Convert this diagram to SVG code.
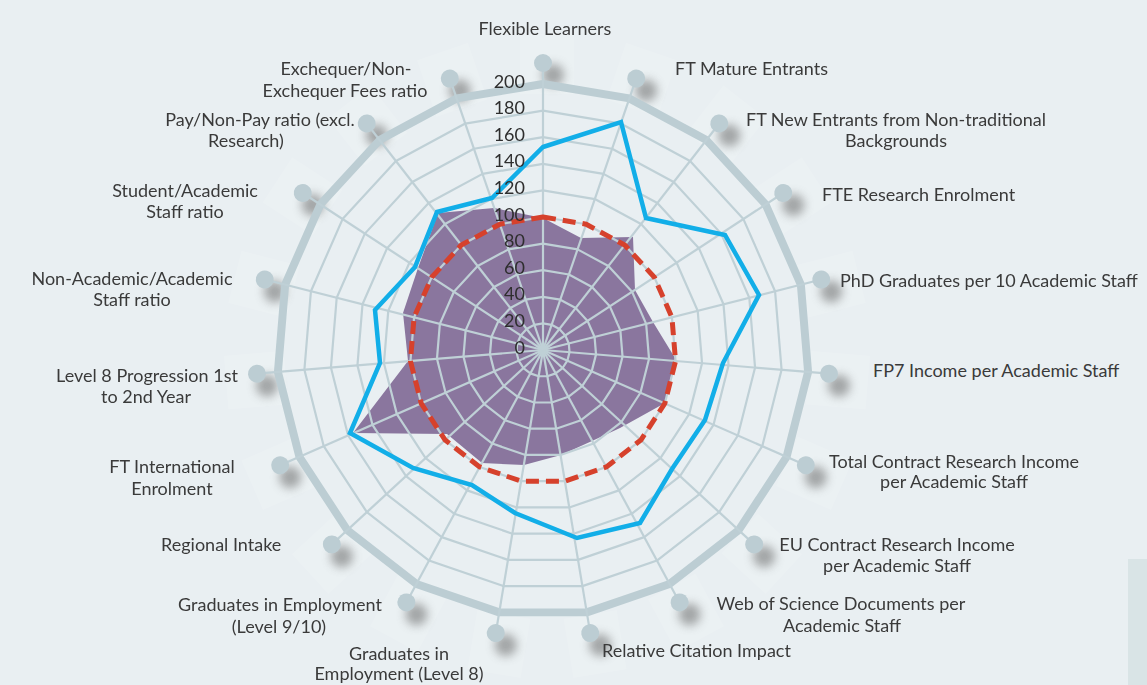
<svg xmlns="http://www.w3.org/2000/svg" xmlns:xlink="http://www.w3.org/1999/xlink" width="1147" height="685" viewBox="0 0 1147 685">
<defs>
<style>
.lbl{font-family:Lato,"Open Sans","Liberation Sans",sans-serif;font-weight:400;font-size:18px;fill:#3a3a3a;}
.mid{text-anchor:middle}
.num{font-family:Lato,"Open Sans","Liberation Sans",sans-serif;font-weight:400;font-size:18px;fill:#2e2e2e;text-anchor:end}
.ring{fill:none;stroke:#bfd0d6;stroke-linejoin:round}
.spoke{stroke:#bfd0d6;stroke-width:2.2}
.knob{fill:#bccdd3}
.shadow{fill:#5a5a5a;opacity:.5;filter:url(#blur)}
.tile{fill:#ffffff;opacity:.13}
</style>
<filter id="blur" x="-1" y="-1" width="3" height="3"><feGaussianBlur stdDeviation="5"/></filter>
<polygon id="web" points="0,-100 32.47,-94.58 61.42,-78.91 83.72,-54.69 96.94,-24.55 99.66,8.26 91.58,40.17 73.57,67.73 47.59,87.95 16.46,98.64 -16.46,98.64 -47.59,87.95 -73.57,67.73 -91.58,40.17 -99.66,8.26 -96.94,-24.55 -83.72,-54.69 -61.42,-78.91 -32.47,-94.58"/>
</defs>
<rect width="1147" height="685" fill="#e9eff2"/>
<rect x="1128" y="559" width="19" height="126" fill="#d9e4e6"/>

<g id="tiles" class="tile">
<g transform="translate(547,356) rotate(0)"><rect x="-27" y="-322" width="54" height="60"/></g>
<g transform="translate(547,356) rotate(18.947)"><rect x="-27" y="-322" width="54" height="60"/></g>
<g transform="translate(547,356) rotate(37.895)"><rect x="-27" y="-322" width="54" height="60"/></g>
<g transform="translate(547,356) rotate(56.842)"><rect x="-27" y="-322" width="54" height="60"/></g>
<g transform="translate(547,356) rotate(75.789)"><rect x="-27" y="-322" width="54" height="60"/></g>
<g transform="translate(547,356) rotate(94.737)"><rect x="-27" y="-322" width="54" height="60"/></g>
<g transform="translate(547,356) rotate(113.684)"><rect x="-27" y="-322" width="54" height="60"/></g>
<g transform="translate(547,356) rotate(132.632)"><rect x="-27" y="-322" width="54" height="60"/></g>
<g transform="translate(547,356) rotate(151.579)"><rect x="-27" y="-322" width="54" height="60"/></g>
<g transform="translate(547,356) rotate(170.526)"><rect x="-27" y="-322" width="54" height="60"/></g>
<g transform="translate(547,356) rotate(189.474)"><rect x="-27" y="-322" width="54" height="60"/></g>
<g transform="translate(547,356) rotate(208.421)"><rect x="-27" y="-322" width="54" height="60"/></g>
<g transform="translate(547,356) rotate(227.368)"><rect x="-27" y="-322" width="54" height="60"/></g>
<g transform="translate(547,356) rotate(246.316)"><rect x="-27" y="-322" width="54" height="60"/></g>
<g transform="translate(547,356) rotate(265.263)"><rect x="-27" y="-322" width="54" height="60"/></g>
<g transform="translate(547,356) rotate(284.211)"><rect x="-27" y="-322" width="54" height="60"/></g>
<g transform="translate(547,356) rotate(303.158)"><rect x="-27" y="-322" width="54" height="60"/></g>
<g transform="translate(547,356) rotate(322.105)"><rect x="-27" y="-322" width="54" height="60"/></g>
<g transform="translate(547,356) rotate(341.053)"><rect x="-27" y="-322" width="54" height="60"/></g>
</g>

<g id="shadows" class="shadow">
<g transform="translate(553,362) rotate(0)"><circle cy="-287" r="11"/></g>
<g transform="translate(553,362) rotate(18.947)"><circle cy="-287" r="11"/></g>
<g transform="translate(553,362) rotate(37.895)"><circle cy="-287" r="11"/></g>
<g transform="translate(553,362) rotate(56.842)"><circle cy="-287" r="11"/></g>
<g transform="translate(553,362) rotate(75.789)"><circle cy="-287" r="11"/></g>
<g transform="translate(553,362) rotate(94.737)"><circle cy="-287" r="11"/></g>
<g transform="translate(553,362) rotate(113.684)"><circle cy="-287" r="11"/></g>
<g transform="translate(553,362) rotate(132.632)"><circle cy="-287" r="11"/></g>
<g transform="translate(553,362) rotate(151.579)"><circle cy="-287" r="11"/></g>
<g transform="translate(553,362) rotate(170.526)"><circle cy="-287" r="11"/></g>
<g transform="translate(553,362) rotate(189.474)"><circle cy="-287" r="11"/></g>
<g transform="translate(553,362) rotate(208.421)"><circle cy="-287" r="11"/></g>
<g transform="translate(553,362) rotate(227.368)"><circle cy="-287" r="11"/></g>
<g transform="translate(553,362) rotate(246.316)"><circle cy="-287" r="11"/></g>
<g transform="translate(553,362) rotate(265.263)"><circle cy="-287" r="11"/></g>
<g transform="translate(553,362) rotate(284.211)"><circle cy="-287" r="11"/></g>
<g transform="translate(553,362) rotate(303.158)"><circle cy="-287" r="11"/></g>
<g transform="translate(553,362) rotate(322.105)"><circle cy="-287" r="11"/></g>
<g transform="translate(553,362) rotate(341.053)"><circle cy="-287" r="11"/></g>
</g>

<g id="area">
<polygon fill="#8a769e" points="543,218 581,238 633,237 635,290 653,322 675,358 665,403 620,428 592,441 561,455 524,465 482,463 447,434 353,433 408,361 403,313 418,268 438,213 494,208"/>
</g>

<g id="grid">
<use xlink:href="#web" href="#web" class="ring" transform="translate(543,350) scale(0.266)" style="stroke-width:8.27"/>
<use xlink:href="#web" href="#web" class="ring" transform="translate(543,350) scale(0.532)" style="stroke-width:4.14"/>
<use xlink:href="#web" href="#web" class="ring" transform="translate(543,350) scale(0.798)" style="stroke-width:2.76"/>
<use xlink:href="#web" href="#web" class="ring" transform="translate(543,350) scale(1.064)" style="stroke-width:2.07"/>
<use xlink:href="#web" href="#web" class="ring" transform="translate(543,350) scale(1.33)" style="stroke-width:1.65"/>
<use xlink:href="#web" href="#web" class="ring" transform="translate(543,350) scale(1.596)" style="stroke-width:1.38"/>
<use xlink:href="#web" href="#web" class="ring" transform="translate(543,350) scale(1.862)" style="stroke-width:1.18"/>
<use xlink:href="#web" href="#web" class="ring" transform="translate(543,350) scale(2.128)" style="stroke-width:1.03"/>
<use xlink:href="#web" href="#web" class="ring" transform="translate(543,350) scale(2.394)" style="stroke-width:0.92"/>
<use xlink:href="#web" href="#web" class="ring" transform="translate(543,350) scale(2.66)" style="stroke-width:3.0;stroke:#bccdd3"/>
</g>

<g id="axis-flexible-learners"><g transform="translate(543,350) rotate(0)"><line class="spoke" y2="-287"/><circle class="knob" cy="-287" r="9"/></g><text class="lbl mid" x="545" y="35">Flexible Learners</text></g>
<g id="axis-ft-mature-entrants"><g transform="translate(543,350) rotate(18.947)"><line class="spoke" y2="-287"/><circle class="knob" cy="-287" r="9"/></g><text class="lbl" x="675" y="75">FT Mature Entrants</text></g>
<g id="axis-ft-new-entrants"><g transform="translate(543,350) rotate(37.895)"><line class="spoke" y2="-287"/><circle class="knob" cy="-287" r="9"/></g><text class="lbl mid" x="896" y="126">FT New Entrants from Non-traditional</text><text class="lbl mid" x="896" y="147">Backgrounds</text></g>
<g id="axis-fte-research-enrolment"><g transform="translate(543,350) rotate(56.842)"><line class="spoke" y2="-287"/><circle class="knob" cy="-287" r="9"/></g><text class="lbl" x="822" y="201">FTE Research Enrolment</text></g>
<g id="axis-phd-graduates"><g transform="translate(543,350) rotate(75.789)"><line class="spoke" y2="-287"/><circle class="knob" cy="-287" r="9"/></g><text class="lbl" x="840" y="287">PhD Graduates per 10 Academic Staff</text></g>
<g id="axis-fp7-income"><g transform="translate(543,350) rotate(94.737)"><line class="spoke" y2="-287"/><circle class="knob" cy="-287" r="9"/></g><text class="lbl" x="873" y="377">FP7 Income per Academic Staff</text></g>
<g id="axis-total-contract-research"><g transform="translate(543,350) rotate(113.684)"><line class="spoke" y2="-287"/><circle class="knob" cy="-287" r="9"/></g><text class="lbl mid" x="954" y="468">Total Contract Research Income</text><text class="lbl mid" x="954" y="488">per Academic Staff</text></g>
<g id="axis-eu-contract-research"><g transform="translate(543,350) rotate(132.632)"><line class="spoke" y2="-287"/><circle class="knob" cy="-287" r="9"/></g><text class="lbl mid" x="897" y="551">EU Contract Research Income</text><text class="lbl mid" x="897" y="572">per Academic Staff</text></g>
<g id="axis-web-of-science"><g transform="translate(543,350) rotate(151.579)"><line class="spoke" y2="-287"/><circle class="knob" cy="-287" r="9"/></g><text class="lbl mid" x="841" y="610">Web of Science Documents per</text><text class="lbl mid" x="842" y="632">Academic Staff</text></g>
<g id="axis-relative-citation-impact"><g transform="translate(543,350) rotate(170.526)"><line class="spoke" y2="-287"/><circle class="knob" cy="-287" r="9"/></g><text class="lbl" x="602" y="657">Relative Citation Impact</text></g>
<g id="axis-graduates-level-8"><g transform="translate(543,350) rotate(189.474)"><line class="spoke" y2="-287"/><circle class="knob" cy="-287" r="9"/></g><text class="lbl mid" x="399" y="660">Graduates in</text><text class="lbl mid" x="399" y="680">Employment (Level 8)</text></g>
<g id="axis-graduates-level-9-10"><g transform="translate(543,350) rotate(208.421)"><line class="spoke" y2="-287"/><circle class="knob" cy="-287" r="9"/></g><text class="lbl mid" x="280" y="611">Graduates in Employment</text><text class="lbl mid" x="279" y="633">(Level 9/10)</text></g>
<g id="axis-regional-intake"><g transform="translate(543,350) rotate(227.368)"><line class="spoke" y2="-287"/><circle class="knob" cy="-287" r="9"/></g><text class="lbl" x="161" y="551">Regional Intake</text></g>
<g id="axis-ft-international-enrolment"><g transform="translate(543,350) rotate(246.316)"><line class="spoke" y2="-287"/><circle class="knob" cy="-287" r="9"/></g><text class="lbl mid" x="172" y="473">FT International</text><text class="lbl mid" x="172" y="495">Enrolment</text></g>
<g id="axis-level-8-progression"><g transform="translate(543,350) rotate(265.263)"><line class="spoke" y2="-287"/><circle class="knob" cy="-287" r="9"/></g><text class="lbl mid" x="147" y="382">Level 8 Progression 1st</text><text class="lbl mid" x="146" y="403">to 2nd Year</text></g>
<g id="axis-non-academic-ratio"><g transform="translate(543,350) rotate(284.211)"><line class="spoke" y2="-287"/><circle class="knob" cy="-287" r="9"/></g><text class="lbl mid" x="132" y="285">Non-Academic/Academic</text><text class="lbl mid" x="132" y="306">Staff ratio</text></g>
<g id="axis-student-academic-ratio"><g transform="translate(543,350) rotate(303.158)"><line class="spoke" y2="-287"/><circle class="knob" cy="-287" r="9"/></g><text class="lbl mid" x="185" y="197">Student/Academic</text><text class="lbl mid" x="185" y="218">Staff ratio</text></g>
<g id="axis-pay-non-pay-ratio"><g transform="translate(543,350) rotate(322.105)"><line class="spoke" y2="-287"/><circle class="knob" cy="-287" r="9"/></g><text class="lbl mid" x="260" y="126">Pay/Non-Pay ratio (excl.</text><text class="lbl mid" x="246" y="147">Research)</text></g>
<g id="axis-exchequer-fees-ratio"><g transform="translate(543,350) rotate(341.053)"><line class="spoke" y2="-287"/><circle class="knob" cy="-287" r="9"/></g><text class="lbl mid" x="346" y="75">Exchequer/Non-</text><text class="lbl mid" x="345" y="97">Exchequer Fees ratio</text></g>

<g id="connectors">
<polygon fill="none" stroke="#d6412c" stroke-width="5" stroke-dasharray="13 7" stroke-linejoin="round" points="543,217 586.19,224.21 624.69,245.05 654.35,277.26 671.93,317.35 675.55,360.99 664.8,403.43 640.85,440.08 606.29,466.97 564.89,481.19 521.11,481.19 479.71,466.97 445.15,440.08 421.2,403.43 410.45,360.99 414.07,317.35 431.65,277.26 461.31,245.05 499.81,224.21"/>
<polygon fill="none" stroke="#12aee8" stroke-width="4.5" stroke-linejoin="miter" points="543,147 621,122 646,218 725,235 759,295 723,363 705,420 672,469 640,523 577,538 515,513 472,485 413,468 350,433 380,363 375,310 415,267 437,212 492,198"/>
</g>

<g id="scale">
<text class="num" x="525" y="87.5">200</text>
<text class="num" x="525" y="114.1">180</text>
<text class="num" x="525" y="140.7">160</text>
<text class="num" x="525" y="167.3">140</text>
<text class="num" x="525" y="193.9">120</text>
<text class="num" x="525" y="220.5">100</text>
<text class="num" x="525" y="247.1">80</text>
<text class="num" x="525" y="273.7">60</text>
<text class="num" x="525" y="300.3">40</text>
<text class="num" x="525" y="326.9">20</text>
<text class="num" x="525" y="353.5">0</text>
</g>
</svg>
